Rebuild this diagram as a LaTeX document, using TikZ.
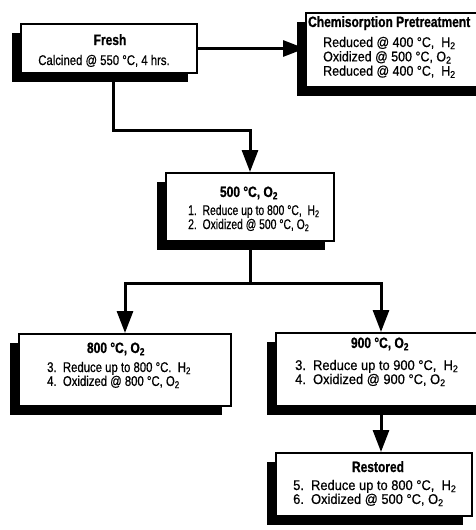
\documentclass[tikz,border=0pt]{standalone}
\usepackage{fontspec}
\setmainfont{Liberation Sans}
\newfontfamily\fA[FakeStretch=0.74,FakeBold=0.6]{Liberation Sans}
\newfontfamily\fB[FakeStretch=0.81,FakeBold=0.6]{Liberation Sans}
\newfontfamily\fC[FakeStretch=0.89,FakeBold=0.6]{Liberation Sans}
\newfontfamily\fD[FakeStretch=0.92,FakeBold=0.6]{Liberation Sans}
\newfontfamily\fT[FakeStretch=0.80,FakeBold=0.8]{Liberation Sans}
\usetikzlibrary{arrows.meta,shadows}
\begin{document}
\begin{tikzpicture}[x=1pt,y=-1pt,
 box/.style={draw, line width=2pt, fill=white, anchor=north west, inner sep=0pt,
   drop shadow={shadow xshift=-9pt, shadow yshift=-9pt, fill=black, opacity=1}},
 ttl/.style={anchor=base, inner sep=0pt, font=\fT\bfseries\fontsize{15pt}{15pt}\selectfont},
 ttlw/.style={ttl, anchor=base west},
 body/.style={anchor=base west, inner sep=0pt},
 bodyc/.style={anchor=base, inner sep=0pt},
 conn/.style={line width=3pt},
 arr/.style={conn, -{Triangle[width=16pt,length=22pt]}}]
\useasboundingbox (0,0) rectangle (476,530);
\fill[white] (0,0) rectangle (476,530);
\clip (0,0) rectangle (476,530);

% boxes
\node[box, minimum width=176pt, minimum height=49pt] (fresh) at (20,23) {};
\node[box, minimum width=185pt, minimum height=74pt] (chem) at (305,12) {};
\node[box, minimum width=168pt, minimum height=68pt] (b500) at (165,172) {};
\node[box, minimum width=212pt, minimum height=72pt] (b800) at (18,333) {};
\node[box, minimum width=210pt, minimum height=73pt] (b900) at (275,332) {};
\node[box, minimum width=196pt, minimum height=63pt] (rest) at (275,452) {};

% texts
\node[ttl] (freshT) at (110,45) {Fresh};
\node[bodyc, font=\fB\fontsize{14pt}{13pt}\selectfont] (freshB) at (104,65) {Calcined @ 550 °C, 4 hrs.};

\node[ttlw] (chemT) at (308,27) {Chemisorption Pretreatment};
\node[body, font=\fC\fontsize{14pt}{14pt}\selectfont] (chemB) at (323,47)
 {\begin{tabular}[t]{@{}l@{}}Reduced @ 400 °C,\ \ H\textsubscript{2}\\Oxidized @ 500 °C, O\textsubscript{2}\\Reduced @ 400 °C,\ \ H\textsubscript{2}\end{tabular}};

\node[ttl] (t500) at (249,197) {500 °C, O\textsubscript{2}};
\node[body, font=\fA\fontsize{14pt}{13pt}\selectfont] (l500) at (188,215)
 {\begin{tabular}[t]{@{}l@{}}1.\ \ Reduce up to 800 °C,\ \ H\textsubscript{2}\\2.\ \ Oxidized @ 500 °C, O\textsubscript{2}\end{tabular}};

\node[ttl] (t800) at (116,353) {800 °C, O\textsubscript{2}};
\node[body, font=\fB\fontsize{14pt}{12.5pt}\selectfont] (l800) at (47,372)
 {\begin{tabular}[t]{@{}l@{}}3.\ \ Reduce up to 800 °C.\ \ H\textsubscript{2}\\4.\ \ Oxidized @ 800 °C, O\textsubscript{2}\end{tabular}};

\node[ttl] (t900) at (380,348) {900 °C, O\textsubscript{2}};
\node[body, font=\fD\fontsize{14pt}{13pt}\selectfont] (l900) at (295,370)
 {\begin{tabular}[t]{@{}l@{}}3.\ \ Reduce up to 900 °C,\ \ H\textsubscript{2}\\4.\ \ Oxidized @ 900 °C, O\textsubscript{2}\end{tabular}};

\node[ttl] (tRest) at (378,472) {Restored};
\node[body, font=\fD\fontsize{14pt}{12.5pt}\selectfont] (lRest) at (293,490)
 {\begin{tabular}[t]{@{}l@{}}5.\ \ Reduce up to 800 °C,\ \ H\textsubscript{2}\\6.\ \ Oxidized @ 500 °C, O\textsubscript{2}\end{tabular}};

% connectors
\draw[arr] (fresh.east) -- (fresh.east -| chem.west);
\draw[arr] ([xshift=4pt]fresh.south) -- ++(0,56) -| (b500.north);
\draw[conn] (b500.south) -- ++(0,41) coordinate (split);
\draw[arr] (split) -| (b800.north);
\draw[arr] (split) -| (b900.north);
\draw[arr] (b900.south) -- (b900.south |- rest.north);
\end{tikzpicture}
\end{document}
